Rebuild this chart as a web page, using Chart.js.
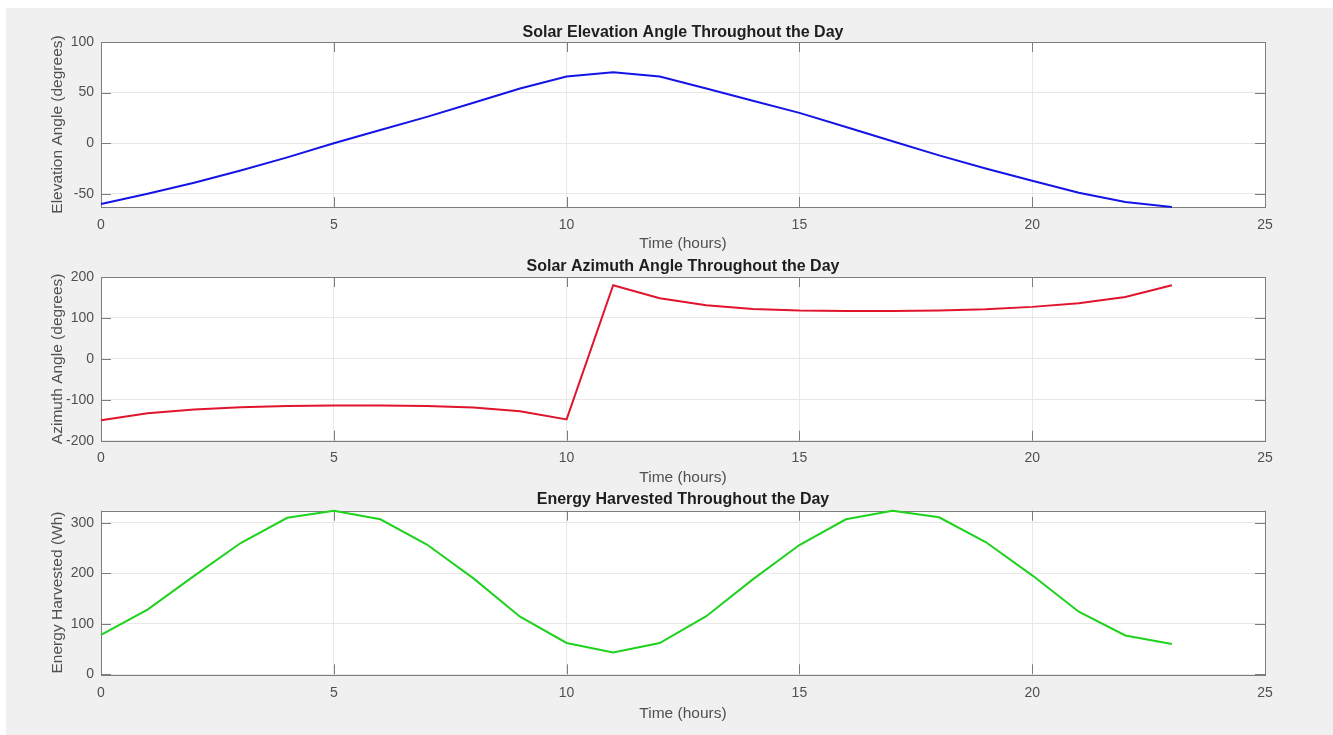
<!DOCTYPE html>
<html>
<head>
<meta charset="utf-8">
<title>Solar Elevation, Azimuth and Energy</title>
<script src="https://cdn.jsdelivr.net/npm/chart.js@4.4.1/dist/chart.umd.min.js"></script>
<style>
  html, body { margin: 0; padding: 0; background: #ffffff; }
  body { width: 1333px; height: 735px; position: relative; overflow: hidden; }
  .figure { position: absolute; left: 6px; top: 8px; right: 0; bottom: 0; background: #f0f0f0; }
  canvas { position: absolute; left: 0; }
</style>
</head>
<body>
<div class="figure"></div>
<canvas id="elevationChart" width="1333" height="252" style="top:0px"></canvas>
<canvas id="azimuthChart" width="1333" height="235" style="top:252px"></canvas>
<canvas id="energyChart" width="1333" height="248" style="top:487px"></canvas>
<script>
// Data (one value per hour)
const hours = [0, 1, 2, 3, 4, 5, 6, 7, 8, 9, 10, 11, 12, 13, 14, 15, 16, 17, 18, 19, 20, 21, 22, 23];
const elevation = [-60, -50, -39, -27, -14, 0, 13, 26, 40, 54, 66, 70, 66, 54, 42, 30, 16, 2, -12, -25, -37, -49, -58, -63];
const azimuth = [-150, -133, -124, -118, -115, -114, -114, -115, -119, -128, -148, 180, 148, 131, 122, 118, 117, 117, 118, 121, 127, 136, 151, 180];
const energy = [78, 128, 195, 260, 310, 324, 307, 257, 190, 114, 62, 43, 62, 115, 188, 256, 307, 324, 311, 262, 196, 124, 77, 60];

// Tick labels
const xTicks = [0, 5, 10, 15, 20, 25];
const elevationTicks = [-50, 0, 50, 100];
const azimuthTicks = [-200, -100, 0, 100, 200];
const energyTicks = [0, 100, 200, 300];

const FONT = "'Liberation Sans', Arial, Helvetica, sans-serif";
const TICK_LEN = 10;

// White axes background, box and inward tick marks (MATLAB look)
const axesBox = {
    id: 'axesBox',
    beforeDraw(chart) {
        const { ctx, chartArea: a } = chart;
        ctx.save();
        ctx.fillStyle = '#ffffff';
        ctx.fillRect(a.left, a.top, a.right - a.left, a.bottom - a.top);
        ctx.restore();
    },
    beforeDatasetsDraw(chart) {
        const { ctx, chartArea: a, scales } = chart;
        ctx.save();
        ctx.strokeStyle = '#7d7d7d';
        ctx.lineWidth = 1;
        ctx.beginPath();
        scales.x.ticks.forEach(t => {
            const px = Math.round(scales.x.getPixelForValue(t.value)) + 0.5;
            ctx.moveTo(px, a.bottom); ctx.lineTo(px, a.bottom - TICK_LEN);
            ctx.moveTo(px, a.top); ctx.lineTo(px, a.top + TICK_LEN);
        });
        scales.y.ticks.forEach(t => {
            const py = Math.round(scales.y.getPixelForValue(t.value)) + 0.5;
            ctx.moveTo(a.left, py); ctx.lineTo(a.left + TICK_LEN, py);
            ctx.moveTo(a.right, py); ctx.lineTo(a.right - TICK_LEN, py);
        });
        ctx.stroke();
        ctx.strokeRect(Math.round(a.left) + 0.5, Math.round(a.top) + 0.5,
            Math.round(a.right - a.left), Math.round(a.bottom - a.top));
        ctx.restore();
    }
};

function makeChart(id, opts) {
    const canvas = document.getElementById(id);
    const ctx = canvas.getContext('2d');
    const points = hours.map((h, i) => ({ x: h, y: opts.values[i] }));

    return new Chart(ctx, {
        type: 'line',
        data: {
            datasets: [{
                data: points,
                borderColor: opts.color,
                borderWidth: 2,
                pointRadius: 0,
                tension: 0,
                fill: false,
                clip: 4
            }]
        },
        options: {
            responsive: false,
            animation: false,
            layout: {
                padding: { left: 0, right: 68, top: opts.padTop, bottom: 0 }
            },
            plugins: {
                legend: { display: false },
                tooltip: { enabled: false },
                title: {
                    display: true,
                    text: opts.title,
                    fullSize: false,
                    color: '#1e1e1e',
                    font: { family: FONT, size: 16, weight: 'bold' },
                    padding: { top: 0, bottom: opts.titleGap }
                }
            },
            scales: {
                x: {
                    type: 'linear',
                    min: 0,
                    max: 25,
                    afterBuildTicks: s => { s.ticks = xTicks.map(v => ({ value: v })); },
                    afterFit: s => { s.height = opts.xHeight; },
                    grid: { color: '#e8e8e8', drawTicks: false },
                    border: { display: false },
                    ticks: {
                        autoSkip: false,
                        maxRotation: 0,
                        padding: opts.xTickPad,
                        color: '#505050',
                        font: { family: FONT, size: 14 }
                    },
                    title: {
                        display: true,
                        text: 'Time (hours)',
                        color: '#505050',
                        font: { family: FONT, size: 15.5 },
                        padding: { top: 0, bottom: opts.xTitlePad }
                    }
                },
                y: {
                    type: 'linear',
                    min: opts.yMin,
                    max: opts.yMax,
                    afterBuildTicks: s => { s.ticks = opts.yTicks.map(v => ({ value: v })); },
                    afterFit: s => { s.width = 101; },
                    grid: { color: '#e8e8e8', drawTicks: false },
                    border: { display: false },
                    ticks: {
                        autoSkip: false,
                        padding: 7,
                        color: '#505050',
                        font: { family: FONT, size: 14 }
                    },
                    title: {
                        display: true,
                        text: opts.yLabel,
                        color: '#505050',
                        font: { family: FONT, size: 15.5 },
                        padding: { top: 48.7, bottom: 0 }
                    }
                }
            }
        },
        plugins: [axesBox]
    });
}

makeChart('elevationChart', {
    values: elevation,
    color: '#1414e6',
    title: 'Solar Elevation Angle Throughout the Day',
    yLabel: 'Elevation Angle (degrees)',
    yMin: -63, yMax: 100, yTicks: elevationTicks,
    padTop: 23, titleGap: -0.2,
    xHeight: 45, xTickPad: 9.4, xTitlePad: -1.2
});

makeChart('azimuthChart', {
    values: azimuth,
    color: '#e0142d',
    title: 'Solar Azimuth Angle Throughout the Day',
    yLabel: 'Azimuth Angle (degrees)',
    yMin: -200, yMax: 200, yTicks: azimuthTicks,
    padTop: 5, titleGap: 0.8,
    xHeight: 46.3, xTickPad: 9.2, xTitlePad: 0
});

makeChart('energyChart', {
    values: energy,
    color: '#1ed21e',
    title: 'Energy Harvested Throughout the Day',
    yLabel: 'Energy Harvested (Wh)',
    yMin: 0, yMax: 324, yTicks: energyTicks,
    padTop: 3.4, titleGap: 1.1,
    xHeight: 60.7, xTickPad: 10, xTitlePad: 12
});
</script>
</body>
</html>
